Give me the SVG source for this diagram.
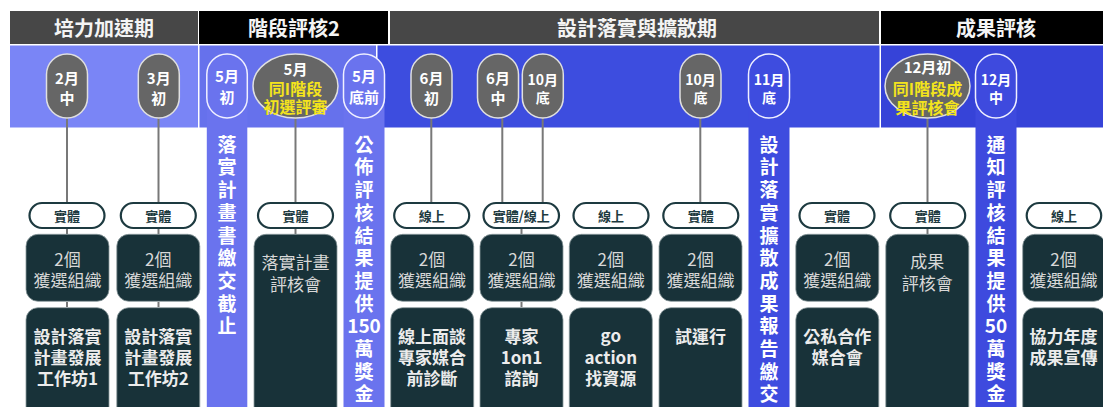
<svg xmlns="http://www.w3.org/2000/svg" width="1103" height="407" viewBox="0 0 1103 407">
<style>
text{font-family:"Noto Sans CJK TC","Noto Sans",sans-serif;text-anchor:middle;dominant-baseline:central}
.hd{font-size:20px;font-weight:700;fill:#f4f4f4}
.pill{fill:#666;stroke:#e0e0e0;stroke-width:1.5}
.pt{font-size:15px;font-weight:700;fill:#fff}
.pts{font-size:14px;font-weight:700;fill:#fff}
.yl{font-size:16px;font-weight:700;fill:#f4e41c}
.col{stroke:#f0f0ff;stroke-width:1.5}
.vt{font-size:19px;font-weight:700;fill:#fff}
.tag{fill:#fff;stroke:#1d3a40;stroke-width:2.2}
.tt{font-size:13px;font-weight:700;fill:#1d3a40}
.box{fill:#183239;stroke:#8c9a9d;stroke-width:0.8}
.bt{font-size:17px;font-weight:400;fill:#d8d8d8}
.bb{font-size:17px;font-weight:700;fill:#ececec}
.ln{stroke:#787878;stroke-width:2;fill:none}
</style>
<rect width="1103" height="407" fill="#fff"/>
<g id="headers">
<rect x="10" y="11" width="188" height="33" fill="#474747"/>
<rect x="199" y="11" width="189" height="33" fill="#000"/>
<rect x="390" y="11" width="489" height="33" fill="#474747"/>
<rect x="881" y="11" width="222" height="33" fill="#000"/>
<text class="hd" x="104" y="27">培力加速期</text>
<text class="hd" x="294" y="27">階段評核2</text>
<text class="hd" x="637" y="27">設計落實與擴散期</text>
<text class="hd" x="996" y="27">成果評核</text>
</g>
<g id="band">
<rect x="10" y="45.5" width="188" height="82" fill="#7a85f6"/>
<rect x="199.5" y="45.5" width="176.5" height="82" fill="#6671ec"/>
<rect x="377.5" y="45.5" width="502" height="82" fill="#3d4ddf"/>
<rect x="881" y="45.5" width="222" height="82" fill="#3643d8"/>
</g>
<g id="connectors">
<line class="ln" x1="67" y1="118" x2="67" y2="203"/>
<line class="ln" x1="158.5" y1="118" x2="158.5" y2="203"/>
<line class="ln" x1="295.5" y1="118" x2="295.5" y2="203"/>
<line class="ln" x1="431.3" y1="118" x2="431.3" y2="203"/>
<line class="ln" x1="502.3" y1="118" x2="502.3" y2="203"/>
<line class="ln" x1="542.7" y1="118" x2="542.7" y2="203"/>
<line class="ln" x1="700.3" y1="118" x2="700.3" y2="203"/>
<line class="ln" x1="927.5" y1="118" x2="927.5" y2="203"/>
<line class="ln" x1="67" y1="228" x2="67" y2="234"/>
<line class="ln" x1="158.5" y1="228" x2="158.5" y2="234"/>
<line class="ln" x1="295.5" y1="228" x2="295.5" y2="234"/>
<line class="ln" x1="521.5" y1="228" x2="521.5" y2="234"/>
<line class="ln" x1="927.5" y1="228" x2="927.5" y2="234"/>
<line class="ln" x1="67" y1="302" x2="67" y2="307" stroke-width="1.5"/>
<line class="ln" x1="158.5" y1="302" x2="158.5" y2="307" stroke-width="1.5"/>
<line class="ln" x1="521.5" y1="302" x2="521.5" y2="307" stroke-width="1.5"/>
</g>
<g id="n-feb">
<rect class="pill" x="46.5" y="54" width="41" height="64" rx="20.5"/>
<text class="pt" x="67" y="77">2月</text><text class="pt" x="67" y="97">中</text>
<rect class="tag" x="29.5" y="203" width="75" height="25" rx="12.5"/><text class="tt" x="67" y="215.5">實體</text>
<rect class="box" x="26" y="234.3" width="83" height="67" rx="12"/>
<text class="bt" x="67.5" y="258">2個</text><text class="bt" x="67.5" y="279">獲選組織</text>
<rect class="box" x="26" y="307.7" width="83" height="115" rx="12"/>
<text class="bb" x="67.5" y="335">設計落實</text><text class="bb" x="67.5" y="356">計畫發展</text><text class="bb" x="67.5" y="377.5">工作坊1</text>
</g>
<g id="n-mar">
<rect class="pill" x="138.3" y="54" width="41" height="64" rx="20.5"/>
<text class="pt" x="158.8" y="77">3月</text><text class="pt" x="158.8" y="97">初</text>
<rect class="tag" x="120.8" y="203" width="75" height="25" rx="12.5"/><text class="tt" x="158.3" y="215.5">實體</text>
<rect class="box" x="116.8" y="234.3" width="83" height="67" rx="12"/>
<text class="bt" x="158.3" y="258">2個</text><text class="bt" x="158.3" y="279">獲選組織</text>
<rect class="box" x="116.8" y="307.7" width="83" height="115" rx="12"/>
<text class="bb" x="158.3" y="335">設計落實</text><text class="bb" x="158.3" y="356">計畫發展</text><text class="bb" x="158.3" y="377.5">工作坊2</text>
</g>
<g id="n-may-early">
<rect x="206.8" y="86" width="40.5" height="330" fill="#6a73ee"/>
<rect class="col" x="206.8" y="54" width="40.5" height="64" rx="20.2" fill="#6a73ee"/>
<text class="pt" x="227" y="75">5月</text><text class="pt" x="227" y="96">初</text>
<text class="vt"><tspan x="227" y="142.7">落</tspan><tspan x="227" y="165.4">實</tspan><tspan x="227" y="188.1">計</tspan><tspan x="227" y="210.8">畫</tspan><tspan x="227" y="233.5">書</tspan><tspan x="227" y="256.2">繳</tspan><tspan x="227" y="278.9">交</tspan><tspan x="227" y="301.6">截</tspan><tspan x="227" y="324.3">止</tspan></text>
</g>
<g id="n-may-review">
<ellipse class="pill" cx="295.5" cy="86" rx="42.5" ry="32"/>
<text class="pt" x="295.5" y="68.3">5月</text><text class="yl" x="295.5" y="88">同I階段</text><text class="yl" x="295.5" y="106">初選評審</text>
<rect class="tag" x="258" y="203" width="75" height="25" rx="12.5"/><text class="tt" x="295.5" y="215.5">實體</text>
<rect class="box" x="254" y="234.3" width="83" height="190" rx="12"/>
<text class="bt" x="295.5" y="261.7">落實計畫</text><text class="bt" x="295.5" y="283.3">評核會</text>
</g>
<g id="n-may-end">
<rect x="343.5" y="86" width="41" height="330" fill="#6a73ee"/>
<rect class="col" x="343.5" y="54" width="41" height="64" rx="20.5" fill="#6a73ee"/>
<text class="pt" x="364" y="75">5月</text><text class="pt" x="364" y="96">底前</text>
<text class="vt"><tspan x="364" y="142.7">公</tspan><tspan x="364" y="165.4">佈</tspan><tspan x="364" y="188.1">評</tspan><tspan x="364" y="210.8">核</tspan><tspan x="364" y="233.5">結</tspan><tspan x="364" y="256.2">果</tspan><tspan x="364" y="278.9">提</tspan><tspan x="364" y="301.6">供</tspan><tspan x="364" y="324.3">150</tspan><tspan x="364" y="347">萬</tspan><tspan x="364" y="369.7">獎</tspan><tspan x="364" y="392.4">金</tspan></text>
</g>
<g id="n-jun-early">
<rect class="pill" x="411" y="54" width="41" height="64" rx="20.5"/>
<text class="pt" x="431.5" y="77">6月</text><text class="pt" x="431.5" y="97">初</text>
<rect class="tag" x="394.2" y="203" width="75" height="25" rx="12.5"/><text class="tt" x="431.7" y="215.5">線上</text>
<rect class="box" x="390.7" y="234.3" width="83" height="67" rx="12"/>
<text class="bt" x="432" y="258">2個</text><text class="bt" x="432" y="279">獲選組織</text>
<rect class="box" x="390.7" y="307.7" width="83" height="115" rx="12"/>
<text class="bb" x="432" y="335">線上面談</text><text class="bb" x="432" y="356">專家媒合</text><text class="bb" x="432" y="377.5">前診斷</text>
</g>
<g id="n-jun-mid">
<rect class="pill" x="477.5" y="54" width="41" height="64" rx="20.5"/>
<text class="pt" x="498" y="77">6月</text><text class="pt" x="498" y="97">中</text>
</g>
<g id="n-oct-end-1">
<rect class="pill" x="522.3" y="54" width="41" height="64" rx="20.5"/>
<text class="pts" x="542.8" y="79">10月</text><text class="pts" x="542.8" y="97.3">底</text>
</g>
<g id="n-expert">
<rect class="tag" x="483.5" y="203" width="75.5" height="25" rx="12.5"/><text class="tt" x="521.2" y="215.5">實體/線上</text>
<rect class="box" x="480" y="234.3" width="83" height="67" rx="12"/>
<text class="bt" x="521.5" y="258">2個</text><text class="bt" x="521.5" y="279">獲選組織</text>
<rect class="box" x="480" y="307.7" width="83" height="115" rx="12"/>
<text class="bb" x="521.5" y="335">專家</text><text class="bb" x="521.5" y="356">1on1</text><text class="bb" x="521.5" y="377.5">諮詢</text>
</g>
<g id="n-goaction">
<rect class="tag" x="573.5" y="203" width="75" height="25" rx="12.5"/><text class="tt" x="611" y="215.5">線上</text>
<rect class="box" x="569.3" y="234.3" width="83" height="67" rx="12"/>
<text class="bt" x="610.8" y="258">2個</text><text class="bt" x="610.8" y="279">獲選組織</text>
<rect class="box" x="569.3" y="307.7" width="83" height="115" rx="12"/>
<text class="bb" x="610.8" y="334">go</text><text class="bb" x="610.8" y="356">action</text><text class="bb" x="610.8" y="377.5">找資源</text>
</g>
<g id="n-oct-end-2">
<rect class="pill" x="680" y="54" width="41" height="64" rx="20.5"/>
<text class="pts" x="700.5" y="79">10月</text><text class="pts" x="700.5" y="97.3">底</text>
<rect class="tag" x="663.3" y="203" width="75" height="25" rx="12.5"/><text class="tt" x="700.8" y="215.5">實體</text>
<rect class="box" x="659" y="234.3" width="83" height="67" rx="12"/>
<text class="bt" x="700.5" y="258">2個</text><text class="bt" x="700.5" y="279">獲選組織</text>
<rect class="box" x="659" y="307.7" width="83" height="115" rx="12"/>
<text class="bb" x="700.5" y="335">試運行</text>
</g>
<g id="n-nov-end">
<rect x="748.5" y="86" width="41" height="330" fill="#3e4cdf"/>
<rect class="col" x="748.5" y="54" width="41" height="64" rx="20.5" fill="#3e4cdf"/>
<text class="pts" x="769" y="79">11月</text><text class="pts" x="769" y="96.7">底</text>
<text class="vt"><tspan x="769" y="142.7">設</tspan><tspan x="769" y="165.4">計</tspan><tspan x="769" y="188.1">落</tspan><tspan x="769" y="210.8">實</tspan><tspan x="769" y="233.5">擴</tspan><tspan x="769" y="256.2">散</tspan><tspan x="769" y="278.9">成</tspan><tspan x="769" y="301.6">果</tspan><tspan x="769" y="324.3">報</tspan><tspan x="769" y="347">告</tspan><tspan x="769" y="369.7">繳</tspan><tspan x="769" y="392.4">交</tspan></text>
</g>
<g id="n-matching">
<rect class="tag" x="799.5" y="203" width="75" height="25" rx="12.5"/><text class="tt" x="837" y="215.5">實體</text>
<rect class="box" x="795.8" y="234.3" width="83" height="67" rx="12"/>
<text class="bt" x="837.3" y="258">2個</text><text class="bt" x="837.3" y="279">獲選組織</text>
<rect class="box" x="795.8" y="307.7" width="83" height="115" rx="12"/>
<text class="bb" x="837.3" y="335">公私合作</text><text class="bb" x="837.3" y="356">媒合會</text>
</g>
<g id="n-dec-early">
<ellipse class="pill" cx="927.5" cy="86" rx="42.5" ry="32"/>
<text class="pt" x="927.5" y="66.7">12月初</text><text class="yl" x="927.5" y="88">同I階段成</text><text class="yl" x="927.5" y="106.5">果評核會</text>
<rect class="tag" x="890.2" y="203" width="75" height="25" rx="12.5"/><text class="tt" x="927.7" y="215.5">實體</text>
<rect class="box" x="885.8" y="234.3" width="83" height="190" rx="12"/>
<text class="bt" x="927.3" y="260.7">成果</text><text class="bt" x="927.3" y="282.7">評核會</text>
</g>
<g id="n-dec-mid">
<rect x="975.5" y="86" width="41" height="330" fill="#3e4ade"/>
<rect class="col" x="975.5" y="54" width="41" height="64" rx="20.5" fill="#3e4ade"/>
<text class="pts" x="996" y="79">12月</text><text class="pts" x="996" y="96.7">中</text>
<text class="vt"><tspan x="996" y="142.7">通</tspan><tspan x="996" y="165.4">知</tspan><tspan x="996" y="188.1">評</tspan><tspan x="996" y="210.8">核</tspan><tspan x="996" y="233.5">結</tspan><tspan x="996" y="256.2">果</tspan><tspan x="996" y="278.9">提</tspan><tspan x="996" y="301.6">供</tspan><tspan x="996" y="324.3">50</tspan><tspan x="996" y="347">萬</tspan><tspan x="996" y="369.7">獎</tspan><tspan x="996" y="392.4">金</tspan></text>
</g>
<g id="n-promo">
<rect class="tag" x="1026.7" y="203" width="74.5" height="25" rx="12.5"/><text class="tt" x="1064" y="215.5">線上</text>
<rect class="box" x="1022.7" y="234.3" width="83" height="67" rx="12"/>
<text class="bt" x="1063.5" y="258">2個</text><text class="bt" x="1063.5" y="279">獲選組織</text>
<rect class="box" x="1022.7" y="307.7" width="83" height="115" rx="12"/>
<text class="bb" x="1063.5" y="335">協力年度</text><text class="bb" x="1063.5" y="356">成果宣傳</text>
</g>
</svg>
